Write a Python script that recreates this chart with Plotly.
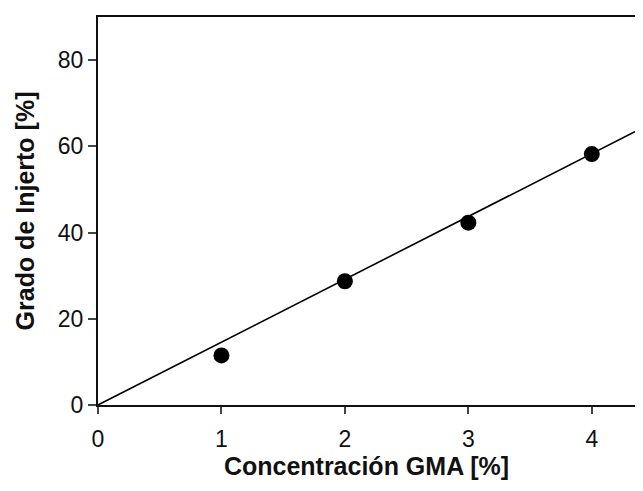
import plotly.graph_objects as go

# measured points
gma = [1, 2, 3, 4]
grafting = [11.5, 28.7, 42.3, 58.2]

# linear fit through origin
fit_x = [0, 4.5]
fit_y = [0, 65.6]

x_ticks = [0, 1, 2, 3, 4]
y_ticks = [0, 20, 40, 60, 80]

fig = go.Figure()
fig.add_trace(go.Scatter(x=fit_x, y=fit_y, mode="lines",
                         line=dict(color="black", width=1.6), showlegend=False))
fig.add_trace(go.Scatter(x=gma, y=grafting, mode="markers",
                         marker=dict(color="black", size=16), showlegend=False))

font = "Liberation Sans, Arial, sans-serif"
# page body has an 8px margin, so the figure is a bit smaller than the window
fig.update_layout(
    width=627, height=475,
    margin=dict(l=90, r=0, t=9, b=78),
    plot_bgcolor="white", paper_bgcolor="white",
    font=dict(family=font, size=23, color="#111"),
)
fig.update_xaxes(
    range=[0, 4.35], tickvals=x_ticks, ticks="outside", ticklen=7, tickwidth=2,
    ticklabelstandoff=5,
    showline=True, linecolor="#111", linewidth=2, mirror=True,
    showgrid=False, zeroline=False,
    title=dict(text="<b>Concentración GMA [%]</b>", font=dict(size=25), standoff=6),
)
fig.update_yaxes(
    range=[0, 90], tickvals=y_ticks, ticks="outside", ticklen=8, tickwidth=2,
    showline=True, linecolor="#111", linewidth=2,
    showgrid=False, zeroline=False,
    title=dict(text="<b>Grado de Injerto [%]</b>", font=dict(size=25), standoff=16),
)

fig.write_html("out.html")
